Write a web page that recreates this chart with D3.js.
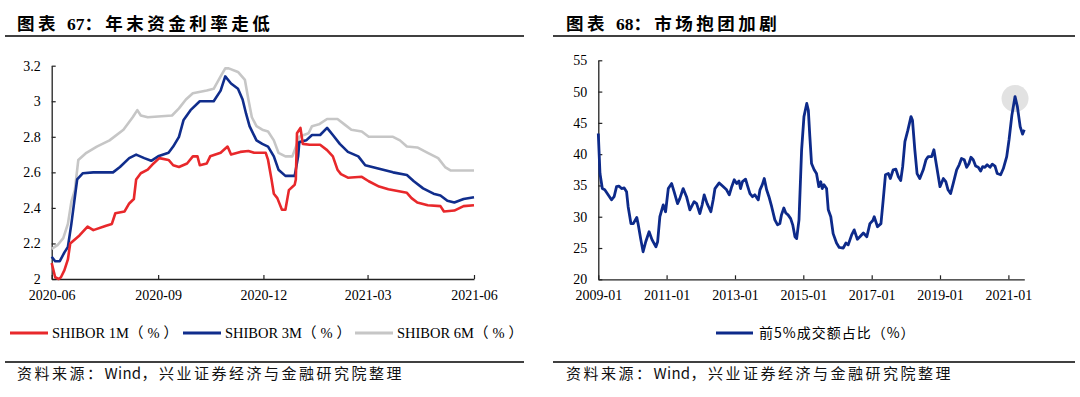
<!DOCTYPE html>
<html>
<head>
<meta charset="utf-8">
<script src="https://cdn.jsdelivr.net/npm/d3@7"></script>
<style>
  body { margin: 0; background: #fff; }
  svg { display: block; }
  .tick text { font-family: "Liberation Serif", "Times New Roman", serif; font-size: 14px; fill: #000; }
</style>
</head>
<body>
<div id="svg-container"></div>
<script>
////////////////////////////////////////////////////////////////////
////////////////////////////  Data  ////////////////////////////////
const rateTicks = ["2020-06-01", "2020-09-01", "2020-12-01", "2021-03-01", "2021-06-01"];
const rateYTicks = [2, 2.2, 2.4, 2.6, 2.8, 3, 3.2];

const shibor1mDates = ["2020-06-01","2020-06-04","2020-06-07","2020-06-09","2020-06-12","2020-06-15","2020-06-17","2020-06-25","2020-07-02","2020-07-07","2020-07-18","2020-07-23","2020-07-26","2020-08-03","2020-08-07","2020-08-11","2020-08-13","2020-08-17","2020-08-23","2020-08-28","2020-09-02","2020-09-10","2020-09-14","2020-09-19","2020-09-26","2020-10-01","2020-10-05","2020-10-07","2020-10-13","2020-10-16","2020-10-25","2020-10-31","2020-11-03","2020-11-11","2020-11-18","2020-11-23","2020-12-03","2020-12-05","2020-12-08","2020-12-10","2020-12-13","2020-12-17","2020-12-20","2020-12-23","2020-12-28","2020-12-29","2020-12-30","2021-01-02","2021-01-04","2021-01-10","2021-01-19","2021-01-25","2021-01-30","2021-02-03","2021-02-06","2021-02-12","2021-02-24","2021-03-02","2021-03-11","2021-03-19","2021-04-04","2021-04-08","2021-04-13","2021-04-22","2021-05-03","2021-05-06","2021-05-15","2021-05-23","2021-06-01"];
const shibor1m = [2.09,2.01,2.0,2.01,2.05,2.11,2.2,2.245,2.295,2.275,2.3,2.31,2.37,2.38,2.425,2.45,2.56,2.595,2.615,2.65,2.68,2.67,2.64,2.63,2.65,2.69,2.69,2.64,2.65,2.69,2.71,2.745,2.7,2.715,2.72,2.71,2.71,2.67,2.56,2.48,2.455,2.39,2.39,2.5,2.53,2.56,2.82,2.85,2.76,2.755,2.755,2.725,2.69,2.615,2.59,2.57,2.575,2.55,2.52,2.505,2.485,2.455,2.43,2.415,2.41,2.38,2.385,2.41,2.415];

const shibor3mDates = ["2020-06-01","2020-06-04","2020-06-08","2020-06-12","2020-06-15","2020-06-18","2020-06-20","2020-06-23","2020-06-28","2020-07-07","2020-07-24","2020-07-30","2020-08-07","2020-08-13","2020-08-20","2020-08-26","2020-09-01","2020-09-10","2020-09-14","2020-09-19","2020-09-23","2020-09-29","2020-10-07","2020-10-19","2020-10-25","2020-10-29","2020-11-03","2020-11-09","2020-11-13","2020-11-16","2020-11-19","2020-11-25","2020-11-30","2020-12-05","2020-12-10","2020-12-14","2020-12-20","2020-12-28","2020-12-31","2021-01-01","2021-01-07","2021-01-12","2021-01-19","2021-01-25","2021-01-30","2021-02-05","2021-02-12","2021-02-21","2021-02-27","2021-03-11","2021-03-23","2021-04-04","2021-04-10","2021-04-18","2021-04-27","2021-05-03","2021-05-09","2021-05-15","2021-05-23","2021-06-01"];
const shibor3m = [2.125,2.1,2.1,2.15,2.18,2.31,2.41,2.56,2.595,2.6,2.6,2.63,2.68,2.7,2.68,2.665,2.69,2.71,2.745,2.8,2.895,2.95,3.0,3.0,3.06,3.14,3.1,3.07,3.01,2.93,2.86,2.78,2.76,2.745,2.69,2.615,2.58,2.58,2.69,2.77,2.78,2.81,2.81,2.85,2.81,2.76,2.715,2.69,2.64,2.62,2.6,2.585,2.55,2.51,2.48,2.47,2.44,2.43,2.45,2.46];

const shibor6mDates = ["2020-06-01","2020-06-06","2020-06-11","2020-06-15","2020-06-18","2020-06-21","2020-06-24","2020-07-01","2020-07-10","2020-07-21","2020-08-02","2020-08-10","2020-08-14","2020-08-17","2020-08-23","2020-09-13","2020-09-19","2020-09-25","2020-10-01","2020-10-13","2020-10-19","2020-10-25","2020-10-29","2020-11-01","2020-11-09","2020-11-15","2020-11-18","2020-11-21","2020-11-25","2020-11-30","2020-12-05","2020-12-10","2020-12-14","2020-12-20","2020-12-26","2020-12-30","2021-01-01","2021-01-09","2021-01-12","2021-01-18","2021-01-25","2021-02-03","2021-02-09","2021-02-15","2021-02-24","2021-03-02","2021-03-23","2021-03-29","2021-04-04","2021-04-13","2021-04-22","2021-05-01","2021-05-07","2021-05-12","2021-05-21","2021-06-01"];
const shibor6m = [2.17,2.19,2.23,2.31,2.435,2.5,2.67,2.71,2.745,2.78,2.84,2.91,2.95,2.92,2.91,2.92,2.96,3.01,3.045,3.06,3.07,3.14,3.185,3.185,3.165,3.12,3.01,2.91,2.86,2.84,2.83,2.78,2.71,2.69,2.69,2.76,2.8,2.82,2.86,2.87,2.9,2.9,2.87,2.84,2.83,2.8,2.8,2.78,2.745,2.74,2.71,2.68,2.63,2.61,2.61,2.61];

const rateNames = ["SHIBOR 1M", "SHIBOR 3M", "SHIBOR 6M"];
const rateUnit = "（%）";
const rateColors = ["#e8282b", "#102d8c", "#c6c6c6"];

const shareTicks = ["2009-01-01","2011-01-01","2013-01-01","2015-01-01","2017-01-01","2019-01-01","2021-01-01"];
const shareYTicks = [20, 25, 30, 35, 40, 45, 50, 55];
const shareDates = ["2009-01-01","2009-01-19","2009-02-13","2009-03-11","2009-04-16","2009-05-22","2009-06-19","2009-07-15","2009-08-09","2009-09-07","2009-10-05","2009-10-30","2009-11-16","2009-12-16","2010-01-10","2010-02-16","2010-03-02","2010-04-01","2010-04-25","2010-05-23","2010-06-28","2010-07-30","2010-09-09","2010-09-27","2010-10-21","2010-11-26","2010-12-21","2011-01-19","2011-02-24","2011-03-22","2011-04-28","2011-05-22","2011-06-27","2011-08-02","2011-09-07","2011-10-22","2011-11-18","2011-12-22","2012-01-16","2012-02-07","2012-03-09","2012-04-18","2012-05-13","2012-06-01","2012-07-16","2012-08-21","2012-10-03","2012-11-01","2012-11-27","2012-12-24","2013-01-19","2013-02-13","2013-03-01","2013-03-22","2013-04-24","2013-05-16","2013-06-10","2013-07-07","2013-08-01","2013-08-19","2013-09-07","2013-09-25","2013-10-19","2013-11-10","2013-12-05","2013-12-30","2014-01-28","2014-03-03","2014-04-01","2014-04-25","2014-05-13","2014-06-07","2014-06-28","2014-07-22","2014-08-19","2014-09-10","2014-10-04","2014-10-22","2014-11-16","2014-12-14","2015-01-08","2015-02-07","2015-02-24","2015-03-12","2015-03-30","2015-04-27","2015-05-22","2015-06-16","2015-07-07","2015-07-22","2015-08-10","2015-09-07","2015-09-25","2015-10-22","2015-11-16","2015-12-22","2016-01-20","2016-03-03","2016-04-01","2016-04-25","2016-06-01","2016-06-28","2016-08-01","2016-08-28","2016-10-04","2016-11-10","2016-12-13","2017-01-13","2017-01-28","2017-03-04","2017-04-10","2017-05-04","2017-05-28","2017-06-28","2017-07-19","2017-08-19","2017-09-16","2017-10-13","2017-11-07","2017-11-28","2017-12-22","2018-01-22","2018-02-25","2018-03-13","2018-04-07","2018-05-01","2018-05-30","2018-07-06","2018-08-04","2018-08-28","2018-10-04","2018-10-28","2018-11-27","2019-01-01","2019-02-06","2019-03-04","2019-03-28","2019-04-24","2019-05-22","2019-06-28","2019-07-25","2019-08-19","2019-09-17","2019-10-13","2019-11-07","2019-11-28","2019-12-22","2020-01-17","2020-02-14","2020-03-10","2020-04-01","2020-04-25","2020-05-19","2020-06-19","2020-07-13","2020-08-11","2020-09-04","2020-10-10","2020-11-08","2020-12-14","2021-01-08","2021-02-07","2021-03-13","2021-04-07","2021-05-07","2021-06-01","2021-06-20"];
const shareTop5 = [43.3,36.9,34.5,34.3,33.5,32.7,33.2,34.8,34.9,34.5,34.6,34.0,31.6,28.9,28.9,29.9,28.9,26.3,24.4,26.0,27.6,26.3,25.2,26.0,30.0,31.9,30.8,34.5,35.3,34.0,32.1,32.9,34.5,33.2,31.1,32.4,32.1,30.5,31.9,33.5,32.1,30.8,32.7,34.5,35.4,34.9,34.3,33.5,34.8,35.9,35.3,35.7,34.5,35.6,36.0,34.9,33.7,33.2,33.5,33.1,32.7,34.3,35.1,36.1,34.3,33.2,31.6,29.5,28.7,28.9,30.3,31.4,30.6,30.3,29.7,28.7,26.8,26.5,29.5,40.7,46.0,48.1,47.0,42.8,38.5,37.5,36.9,34.8,35.6,34.5,35.1,34.5,31.1,30.0,27.3,25.8,25.1,25.0,25.8,25.5,27.1,27.9,26.4,26.8,27.4,26.8,28.9,29.4,30.0,28.4,28.9,32.7,36.7,36.9,36.1,37.5,37.6,36.4,35.8,38.0,42.0,43.8,46.0,45.4,40.7,36.9,36.1,37.5,39.1,39.6,39.6,40.7,38.0,34.8,36.1,35.6,34.3,33.7,35.3,37.5,38.3,39.3,39.1,37.9,38.5,39.5,39.1,38.1,37.9,37.3,38.0,37.9,38.3,37.9,38.4,38.1,36.9,36.7,37.7,39.6,42.3,46.2,49.2,47.6,44.4,43.2,43.9];
const shareName = "前5%成交额占比（%）";
const shareHighlight = ["2021-03-13", 48.9];

////////////////////////////////////////////////////////////////////
////////////////////////////  Init  ////////////////////////////////
const width = 1080;
const height = 397;
const parse = d3.timeParse("%Y-%m-%d");

const svg = d3.select("#svg-container").append("svg")
  .attr("width", width).attr("height", height);

const cjk = "'Noto Sans CJK SC', sans-serif";
const serifCjk = "'Liberation Serif', 'Noto Sans CJK SC', serif";

// text made of pieces, each with its own letter spacing
function spaced(sel, parts) {
  parts.forEach(([t, ls]) => sel.append("tspan").attr("letter-spacing", ls).text(t));
}

// panel frame: title, rules, source
function frame(x0, x1, textX, titleParts) {
  const title = svg.append("text")
    .attr("x", textX).attr("y", 30)
    .attr("font-family", serifCjk)
    .attr("font-weight", "bold")
    .attr("font-size", 17.5);
  spaced(title, titleParts);

  svg.append("line")
    .attr("x1", x0).attr("x2", x1).attr("y1", 36).attr("y2", 36)
    .attr("stroke", "#000").attr("stroke-width", 1.3);
  svg.append("line")
    .attr("x1", x0).attr("x2", x1).attr("y1", 362).attr("y2", 362)
    .attr("stroke", "#000").attr("stroke-width", 1.3);

  const source = svg.append("text")
    .attr("x", textX).attr("y", 379)
    .attr("font-family", cjk)
    .attr("font-size", 15)
    .attr("fill", "#111");
  spaced(source, [["资料来源：", 2.5], ["Wind", 0.3], ["，兴业证券经济与金融研究院整理", 2.5]]);
}

function drawAxes(g, x, y, xTicks, yTicks, yFmt) {
  const xAxis = d3.axisBottom(x)
    .tickValues(xTicks.map(parse))
    .tickFormat(d3.timeFormat("%Y-%m"))
    .tickSizeInner(-4).tickSizeOuter(0).tickPadding(11);
  const yAxis = d3.axisLeft(y)
    .tickValues(yTicks)
    .tickFormat(yFmt)
    .tickSizeInner(-4).tickSizeOuter(0).tickPadding(11);

  const gx = g.append("g")
    .attr("transform", `translate(0,${y.range()[0]})`)
    .call(xAxis);
  const gy = g.append("g")
    .attr("transform", `translate(${x.range()[0]},0)`)
    .call(yAxis);
  [gx, gy].forEach((a) => {
    a.select(".domain").attr("stroke", "#222").attr("stroke-width", 1.3);
    a.selectAll(".tick line").attr("stroke", "#222").attr("stroke-width", 1.2);
  });
}

////////////////////////////////////////////////////////////////////
////////////////////////////  Chart 67  ////////////////////////////
frame(5, 524, 17, [["图表 ", 3.5], ["67", 0], ["：年末资金利率走低", 3.5]]);

const xRate = d3.scaleTime()
  .domain([parse("2020-06-01"), parse("2021-06-01")])
  .range([51.7, 474]);
const yRate = d3.scaleLinear().domain([2, 3.2]).range([279, 65.7]);

const gRate = svg.append("g");
drawAxes(gRate, xRate, yRate, rateTicks, rateYTicks, (d) => +d.toFixed(1));

const rateSeries = [
  { dates: shibor6mDates, values: shibor6m, color: rateColors[2] },
  { dates: shibor3mDates, values: shibor3m, color: rateColors[1] },
  { dates: shibor1mDates, values: shibor1m, color: rateColors[0] },
];

const rateLine = d3.line()
  .x((d) => xRate(d[0]))
  .y((d) => yRate(d[1]));

gRate.selectAll(".rate-line")
  .data(rateSeries)
  .enter()
  .append("path")
  .attr("class", "rate-line")
  .attr("fill", "none")
  .attr("stroke", (d) => d.color)
  .attr("stroke-width", 2.6)
  .attr("stroke-linejoin", "round")
  .attr("d", (d) => rateLine(d.dates.map((s, i) => [parse(s), d.values[i]])));

// legend
const legendX = [10, 183, 355];
const rateLegend = svg.selectAll(".rate-legend")
  .data(rateNames)
  .enter()
  .append("g")
  .attr("class", "rate-legend")
  .attr("transform", (d, i) => `translate(${legendX[i]},333)`);
rateLegend.append("line")
  .attr("x1", 0).attr("x2", 38)
  .attr("stroke", (d, i) => rateColors[i])
  .attr("stroke-width", 3);
rateLegend.append("text")
  .attr("x", 42).attr("y", 5)
  .attr("font-family", serifCjk)
  .attr("font-size", 14.5)
  .each(function (d) {
    spaced(d3.select(this), [[d, 0], [rateUnit, 4]]);
  });

////////////////////////////////////////////////////////////////////
////////////////////////////  Chart 68  ////////////////////////////
frame(553, 1075, 566, [["图表 ", 3.5], ["68", 0], ["：市场抱团加剧", 3.5]]);

const xShare = d3.scaleTime()
  .domain([parse("2009-01-01"), parse("2021-06-20")])
  .range([598.3, 1024.3]);
const yShare = d3.scaleLinear().domain([20, 55]).range([279.3, 60.3]);

const gShare = svg.append("g");

// highlight bubble behind the peak
gShare.append("circle")
  .attr("cx", xShare(parse(shareHighlight[0])))
  .attr("cy", yShare(shareHighlight[1]))
  .attr("r", 13.5)
  .attr("fill", "#e2e2e2");

drawAxes(gShare, xShare, yShare, shareTicks, shareYTicks, (d) => d);

const shareLine = d3.line()
  .x((d, i) => xShare(parse(shareDates[i])))
  .y((d) => yShare(d));

gShare.append("path")
  .datum(shareTop5)
  .attr("fill", "none")
  .attr("stroke", "#0d2a8a")
  .attr("stroke-width", 2.8)
  .attr("stroke-linejoin", "round")
  .attr("d", shareLine);

const shareLegend = svg.append("g").attr("transform", "translate(716,333)");
shareLegend.append("line")
  .attr("x1", 0).attr("x2", 37)
  .attr("stroke", "#0d2a8a").attr("stroke-width", 3);
shareLegend.append("text")
  .attr("x", 43).attr("y", 5)
  .attr("font-family", cjk)
  .attr("font-size", 14)
  .attr("letter-spacing", 1)
  .text(shareName);
</script>
</body>
</html>
